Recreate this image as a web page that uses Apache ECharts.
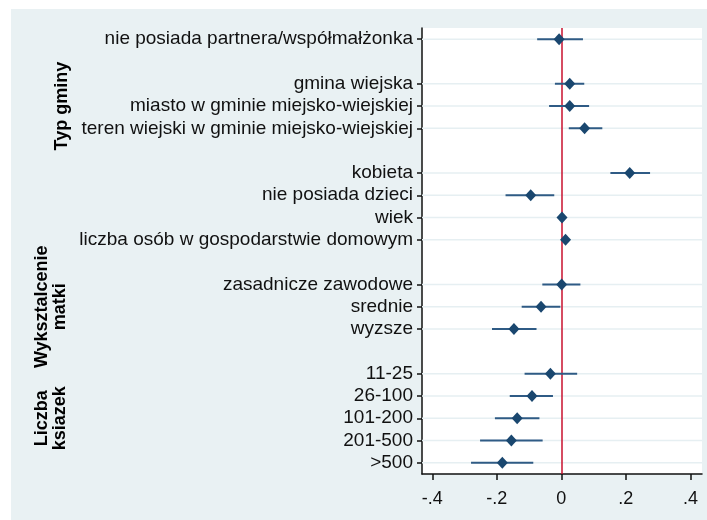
<!DOCTYPE html>
<html>
<head>
<meta charset="utf-8">
<script src="https://cdn.jsdelivr.net/npm/echarts@6/dist/echarts.min.js"></script>
<style>html,body{margin:0;padding:0;background:#fff}#c{width:707px;height:520px}</style>
</head>
<body>
<div id="c"></div>
<script>
// Row labels (blank strings are spacer rows)
var categories = [
  'nie posiada partnera/współmałżonka', ' ',
  'gmina wiejska', 'miasto w gminie miejsko-wiejskiej', 'teren wiejski w gminie miejsko-wiejskiej', '  ',
  'kobieta', 'nie posiada dzieci', 'wiek', 'liczba osób w gospodarstwie domowym', '   ',
  'zasadnicze zawodowe', 'srednie', 'wyzsze', '    ',
  '11-25', '26-100', '101-200', '201-500', '>500'
];
// point estimates (null for spacer rows)
var estimates = [
  -0.007, null,
  0.026, 0.026, 0.072, null,
  0.212, -0.095, 0.002, 0.013, null,
  0.001, -0.063, -0.147, null,
  -0.034, -0.091, -0.137, -0.155, -0.183
];
var ciLow = [
  -0.075, null,
  -0.020, -0.038, 0.023, null,
  0.152, -0.173, -0.001, 0.008, null,
  -0.059, -0.123, -0.215, null,
  -0.114, -0.160, -0.206, -0.252, -0.280
];
var ciHigh = [
  0.067, null,
  0.071, 0.086, 0.127, null,
  0.275, -0.022, 0.005, 0.018, null,
  0.059, -0.003, -0.077, null,
  0.049, -0.026, -0.068, -0.058, -0.087
];
var xTicks = [-0.4, -0.2, 0, 0.2, 0.4];
var xTickLabels = ['-.4', '-.2', '0', '.2', '.4'];
var groupTitles = [
  {text: 'Typ gminy', rows: [2, 4]},
  {text: 'Wyksztalcenie\nmatki', rows: [11, 13]},
  {text: 'Liczba\nksiazek', rows: [15, 19]}
];

var navy = '#1a476f';
var font = "'Liberation Sans',Arial,sans-serif";

var pointData = [], ciData = [], gridData = [];
categories.forEach(function (c, i) {
  if (estimates[i] !== null) {
    pointData.push([estimates[i], i]);
    ciData.push([ciLow[i], ciHigh[i], i]);
    gridData.push([0, i]);
  }
});

var chart = echarts.init(document.getElementById('c'));
var gridTop = 28, gridBottom = 46, gridHeight = 520 - gridTop - gridBottom;
var rowH = gridHeight / categories.length;

var graphics = [{
  type: 'rect', z: -10, silent: true,
  shape: {x: 11, y: 9, width: 696, height: 511},
  style: {fill: '#e9f1f3'}
}];
groupTitles.forEach(function (g) {
  var cy = gridTop + ((g.rows[0] + g.rows[1]) / 2 + 0.5) * rowH;
  graphics.push({
    type: 'text', x: g.text.indexOf('\n') >= 0 ? 51 : 62, y: cy, rotation: Math.PI / 2,
    style: {
      text: g.text, fill: '#000', font: "bold 18px 'Liberation Sans',Arial,sans-serif",
      align: 'center', verticalAlign: 'middle', lineHeight: 18
    }
  });
});

chart.setOption({
  animation: false,
  backgroundColor: '#fff',
  graphic: graphics,
  grid: {left: 422, right: 5, top: gridTop, bottom: gridBottom, show: true, backgroundColor: '#fff', borderWidth: 0},
  xAxis: {
    type: 'value', min: -0.432, max: 0.436,
    axisLine: {show: true, lineStyle: {color: '#111', width: 1.5}},
    axisTick: {show: true, length: 6, customValues: xTicks, lineStyle: {color: '#111', width: 1.5}},
    axisLabel: {
      customValues: xTicks, margin: 16, color: '#111', fontSize: 18, fontFamily: font,
      formatter: function (v) { var i = xTicks.indexOf(+v.toFixed(2)); return i >= 0 ? xTickLabels[i] : ''; }
    },
    splitLine: {show: false}
  },
  yAxis: {
    type: 'category', inverse: true, data: categories,
    axisLine: {show: true, onZero: false, lineStyle: {color: '#111', width: 1.5}},
    axisTick: {
      show: true, alignWithLabel: true, length: 5, lineStyle: {color: '#111', width: 1.5},
      interval: function (i, v) { return String(v).trim() !== ''; }
    },
    axisLabel: {interval: 0, margin: 9, color: '#111', fontSize: 19, fontFamily: font},
    splitLine: {show: false}
  },
  series: [{
    type: 'custom', z: 1, silent: true,
    data: gridData,
    renderItem: function (params, api) {
      var y = api.coord([0, api.value(1)])[1];
      var cs = params.coordSys;
      return {type: 'line', shape: {x1: cs.x, y1: y, x2: cs.x + cs.width, y2: y},
        style: {stroke: '#e6eff2', lineWidth: 1.5}};
    },
    markLine: {
      silent: true, symbol: 'none', label: {show: false}, z: 2,
      lineStyle: {color: '#c8102e', width: 1.5, type: 'solid'},
      data: [{xAxis: 0}]
    }
  }, {
    type: 'custom', z: 3, silent: true,
    data: ciData,
    encode: {x: [0, 1], y: 2},
    renderItem: function (params, api) {
      var p1 = api.coord([api.value(0), api.value(2)]);
      var p2 = api.coord([api.value(1), api.value(2)]);
      return {type: 'line', shape: {x1: p1[0], y1: p1[1], x2: p2[0], y2: p2[1]},
        style: {stroke: '#2f5b85', lineWidth: 2}};
    }
  }, {
    type: 'scatter', z: 4,
    symbol: 'diamond', symbolSize: [11, 12],
    itemStyle: {color: navy, opacity: 1},
    data: pointData
  }]
});
</script>
</body>
</html>
